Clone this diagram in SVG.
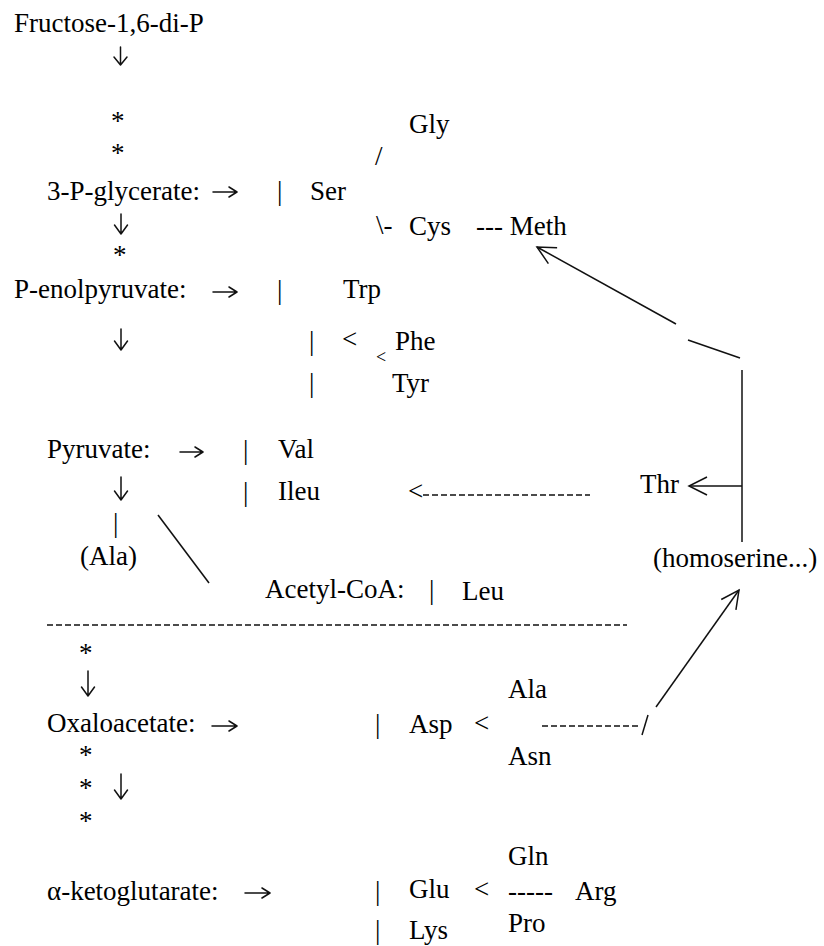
<svg xmlns="http://www.w3.org/2000/svg" width="824" height="946" viewBox="0 0 824 946">
<style>
text{font-family:"Liberation Serif","Times New Roman",serif;font-size:27px;fill:#000}
.sm{font-size:18px}
.bar{opacity:0.999}
.ln{stroke:#111;stroke-width:1.5;fill:none}
.arr{stroke:#111;stroke-width:1.5;fill:none;stroke-linecap:round;stroke-linejoin:round}
.ds{stroke:#111;stroke-width:1.6;fill:none;stroke-dasharray:6 3}
</style>
<defs>
<marker id="ah" viewBox="-20 -12 22 24" refX="0" refY="0" markerWidth="22" markerHeight="24" markerUnits="userSpaceOnUse" orient="auto" overflow="visible">
<path d="M-18,-9 L0,0 L-18,9" fill="none" stroke="#111" stroke-width="1.5"/>
</marker>
</defs>
<rect width="824" height="946" fill="#fff"/>

<g id="fructose"><text x="14" y="32">Fructose-1,6-di-P</text><path class="arr" d="M120.5,47 V65 M114,57 L120.5,65 L127,57"/><text x="111" y="130">*</text><text x="111" y="162">*</text></g>

<g id="glycerate"><text x="47" y="200">3-P-glycerate:</text><path class="arr" d="M213,192 H237 M229,187 L237,192 L229,197"/><text class="bar" x="277" y="200">|</text><text x="310" y="200">Ser</text><path class="arr" d="M121,214 V234 M114.5,225 L121,234 L127.5,225"/><text x="113" y="264">*</text></g>

<g id="gly"><text x="375" y="165">/</text><text x="409" y="133">Gly</text></g>
<g id="cys"><text x="376" y="234">\-</text><text x="409" y="235">Cys</text><text x="476" y="235">--- Meth</text></g>

<g id="pep"><text x="14" y="298">P-enolpyruvate:</text><path class="arr" d="M213,292 H237 M229,287 L237,292 L229,297"/><text class="bar" x="277" y="299">|</text><text x="343" y="298">Trp</text><path class="arr" d="M121,329 V350 M114.5,341 L121,350 L127.5,341"/></g>

<g id="aromatic"><text x="309" y="350">|</text><text x="342" y="348">&lt;</text><text class="sm" x="376" y="363">&lt;</text><text x="395" y="350">Phe</text><text x="309" y="392">|</text><text x="392" y="392">Tyr</text></g>

<g id="pyruvate"><text x="47" y="458">Pyruvate:</text><path class="arr" d="M180,452 H203 M195,447 L203,452 L195,457"/><text x="243" y="459">|</text><text x="278" y="458">Val</text><path class="arr" d="M121,477 V500 M114.5,491 L121,500 L127.5,491"/><text x="243" y="501">|</text><text x="278" y="500">Ileu</text><text class="bar" x="113" y="532">|</text><text x="80" y="565">(Ala)</text></g>

<g id="thr"><text x="640" y="493">Thr</text></g>
<g id="homoserine"><text x="653" y="567">(homoserine...)</text></g>
<g id="acetyl"><text x="265" y="598">Acetyl-CoA:</text><text x="429" y="599">|</text><text x="462" y="600">Leu</text></g>

<g id="oxaloacetate"><text x="79" y="662">*</text><path class="arr" d="M88,671 V696 M81.5,687 L88,696 L94.5,687"/><text x="47" y="732">Oxaloacetate:</text><path class="arr" d="M212,726 H237 M229,721 L237,726 L229,731"/><text x="79" y="764">*</text><text x="79" y="797">*</text><path class="arr" d="M121,774 V799 M114.5,790 L121,799 L127.5,790"/><text x="79" y="830">*</text></g>

<g id="asp"><text x="375" y="733">|</text><text x="409" y="733">Asp</text><text x="474" y="732">&lt;</text><text x="508" y="698">Ala</text><text x="508" y="765">Asn</text></g>

<g id="ketoglutarate"><text x="47" y="900">α-ketoglutarate:</text><path class="arr" d="M245,893 H270 M262,888 L270,893 L262,898"/></g>

<g id="glu"><text x="375" y="900">|</text><text x="409" y="898">Glu</text><text x="474" y="898">&lt;</text><text x="508" y="865">Gln</text><text x="508" y="900">-----</text><text x="575" y="900">Arg</text><text x="508" y="932">Pro</text><text x="375" y="939">|</text><text x="409" y="939">Lys</text></g>

<g id="connectors">
<line class="ln" x1="676" y1="324" x2="537" y2="247" marker-end="url(#ah)"/>
<line class="ln" x1="688" y1="340" x2="740" y2="358"/>
<line class="ln" x1="742" y1="370" x2="742" y2="542"/>
<line class="ln" x1="742" y1="486" x2="689" y2="486" marker-end="url(#ah)"/>
<line class="ln" x1="158" y1="515" x2="209" y2="583"/>
<text x="408" y="500">&lt;</text>
<line class="ds" x1="423" y1="495" x2="590" y2="495"/>
<line class="ds" x1="47" y1="625" x2="627" y2="625"/>
<line class="ds" x1="542" y1="726" x2="640" y2="726"/>
<line class="ln" x1="642" y1="735" x2="648" y2="715"/>
<line class="ln" x1="656" y1="707" x2="739" y2="590" marker-end="url(#ah)"/>
</g>
</svg>
